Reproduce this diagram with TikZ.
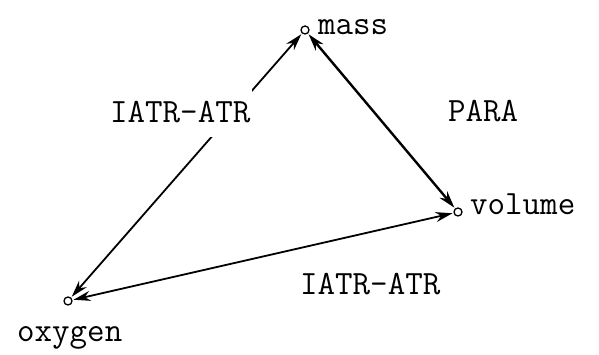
\documentclass[tikz,border=0pt]{standalone}
\usetikzlibrary{arrows.meta}
\begin{document}
\begin{tikzpicture}[x=1pt,y=1pt,
  pt/.style={circle,draw,line width=1.3pt,fill=white,inner sep=0pt,minimum size=8pt},
  lbl/.style={font=\fontsize{34}{36}\selectfont\ttfamily,inner sep=0pt},
  conn/.style={line width=1.8pt,{Stealth[length=17pt,width=10pt]}-{Stealth[length=17pt,width=10pt]},shorten <=1pt,shorten >=1pt}]
\useasboundingbox (0,0) rectangle (599,355);
\node[pt] (mass) at (305,325) {};
\node[pt] (volume) at (458,143) {};
\node[pt] (oxygen) at (68,54) {};
\node[lbl,anchor=base west] (tmass) at (318,320) {mass};
\node[lbl,anchor=base west] (tvolume) at (470,140) {volume};
\node[lbl,anchor=base west] (toxygen) at (17,13) {oxygen};
\draw[conn] (oxygen) -- (mass);
\draw[conn,line width=2.4pt] (mass) -- (volume);
\draw[conn] (volume) -- (oxygen);
\node[lbl,anchor=base west,fill=white,inner xsep=2pt,inner ysep=14pt] (l1) at (108,232) {IATR-ATR};
\node[lbl,anchor=base west] (l2) at (448,233) {PARA};
\node[lbl,anchor=base west] (l3) at (300,60) {IATR-ATR};
\end{tikzpicture}
\end{document}
